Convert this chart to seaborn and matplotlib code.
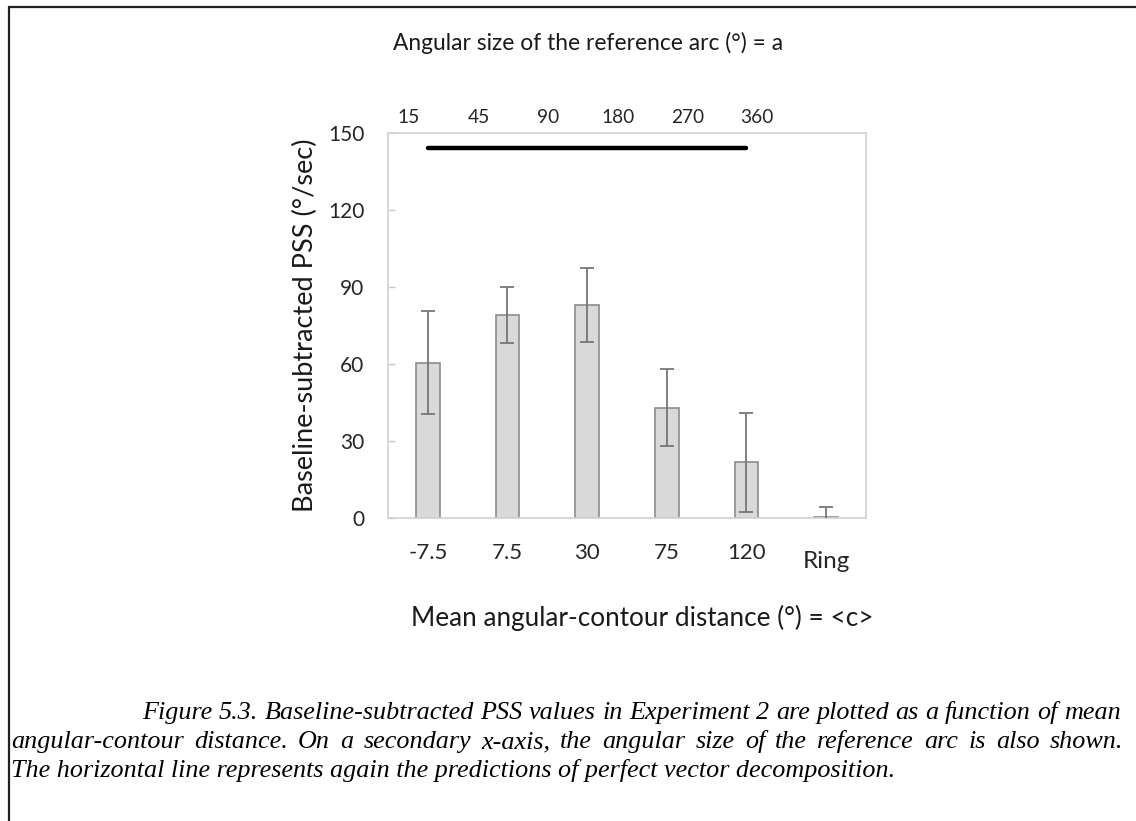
import matplotlib
matplotlib.use("Agg")
import matplotlib.pyplot as plt
from matplotlib.lines import Line2D
import seaborn as sns
import pandas as pd

# ---- data ----
distance_labels = ["-7.5", "7.5", "30", "75", "120", "Ring"]
arc_labels = ["15", "45", "90", "180", "270", "360"]
pss_values = [60.5, 79.0, 83.0, 43.0, 21.7, 0.3]
pss_errors = [20.0, 11.0, 14.5, 15.0, 19.4, 4.0]
prediction_labels = ["-7.5", "7.5", "30", "75", "120"]
prediction_values = [144, 144, 144, 144, 144]
y_ticks = [0, 30, 60, 90, 120, 150]

caption_lines = [
    "Figure 5.3. Baseline-subtracted PSS values in Experiment 2 are plotted as a function of mean",
    "angular-contour distance. On a secondary x-axis, the angular size of the reference arc is also shown.",
    "The horizontal line represents again the predictions of perfect vector decomposition.",
]

sns.set_theme(style="white")
plt.rcParams["font.family"] = ["Lato", "DejaVu Sans"]

W, H = 1136, 821
fig = plt.figure(figsize=(W / 100, H / 100), dpi=100)
fig.patch.set_facecolor("white")

ax_l, ax_r, ax_t, ax_b = 388, 866, 133, 518
ax = fig.add_axes([ax_l / W, 1 - ax_b / H, (ax_r - ax_l) / W, (ax_b - ax_t) / H])

df = pd.DataFrame({"dist": distance_labels, "pss": pss_values})
sns.barplot(data=df, x="dist", y="pss", order=distance_labels, width=0.3,
            color="#d9d9d9", saturation=1, edgecolor="#8c8c8c", linewidth=1.2,
            errorbar=None, ax=ax)
xpos = list(range(len(distance_labels)))
ax.errorbar(xpos, pss_values, yerr=pss_errors, fmt="none", ecolor="#767676",
            elinewidth=1.3, capsize=5, capthick=1.3, zorder=3)

pred_pos = [distance_labels.index(c) for c in prediction_labels]
ax.plot(pred_pos, prediction_values, color="black", lw=3.2,
        solid_capstyle="round", zorder=4)

ax.set_xlim(-0.5, 5.5)
ax.set_ylim(0, 150)
ax.set_yticks(y_ticks)
ax.set_xlabel("")
ax.set_ylabel("")
for s in ax.spines.values():
    s.set_color("#d4d4d4")
    s.set_linewidth(1.3)
ax.tick_params(axis="y", direction="in", length=5, width=1, color="#c8c8c8",
               pad=17, labelsize=15, labelcolor="#262626", left=True)
ax.tick_params(axis="x", length=0, pad=18, labelsize=16, labelcolor="#262626")
ax.set_xticks(xpos)
ax.set_xticklabels(distance_labels)
for lab in ax.get_xticklabels():
    if lab.get_text() == "Ring":
        lab.set_fontsize(17.5)
        lab.set_y(-0.022)

# secondary x-axis on top
ax2 = ax.twiny()
ax2.set_xlim(-0.302, 6.566)
ax2.set_xticks(range(len(arc_labels)))
ax2.set_xticklabels(arc_labels)
ax2.tick_params(axis="x", length=0, pad=5, labelsize=13.8, labelcolor="#262626")
for s in ax2.spines.values():
    s.set_visible(False)
ax2.grid(False)

fig.text(588 / W, 1 - 43 / H, "Angular size of the reference arc (°) = a",
         ha="center", va="center", fontsize=16.4, color="#1a1a1a")
fig.text(642 / W, 1 - 618 / H, "Mean angular-contour distance (°) = <c>",
         ha="center", va="center", fontsize=18.8, color="#1a1a1a")
fig.text(305 / W, 1 - 325 / H, "Baseline-subtracted PSS (°/sec)",
         ha="center", va="center", rotation=90, fontsize=19.5, color="#1a1a1a")

# caption (justified first two lines, last line left-aligned)
cap_kw = dict(family=["Liberation Serif", "DejaVu Serif"], style="italic",
              fontsize=18.8, color="black", va="baseline", ha="left")
renderer = fig.canvas.get_renderer()
line_specs = [(142, 1121, 719, True), (11, 1123, 748, True), (11, None, 777, False)]
for text_line, (x0, x1, yb, justify) in zip(caption_lines, line_specs):
    if not justify:
        fig.text(x0 / W, 1 - yb / H, text_line, **cap_kw)
        continue
    words = text_line.split(" ")
    arts = [fig.text(0, 1 - yb / H, w, **cap_kw) for w in words]
    widths = [a.get_window_extent(renderer).width for a in arts]
    gap = ((x1 - x0) - sum(widths)) / (len(words) - 1)
    x = x0
    for a, wdt in zip(arts, widths):
        a.set_x(x / W)
        x += wdt + gap

# page frame (top and left rules)
fig.add_artist(Line2D([9 / W, 1], [1 - 7 / H, 1 - 7 / H], transform=fig.transFigure,
                      color="#222222", lw=1.6))
fig.add_artist(Line2D([9 / W, 9 / W], [1 - 7 / H, 0], transform=fig.transFigure,
                      color="#222222", lw=1.6))

fig.savefig("out.png", dpi=100, facecolor="white")
